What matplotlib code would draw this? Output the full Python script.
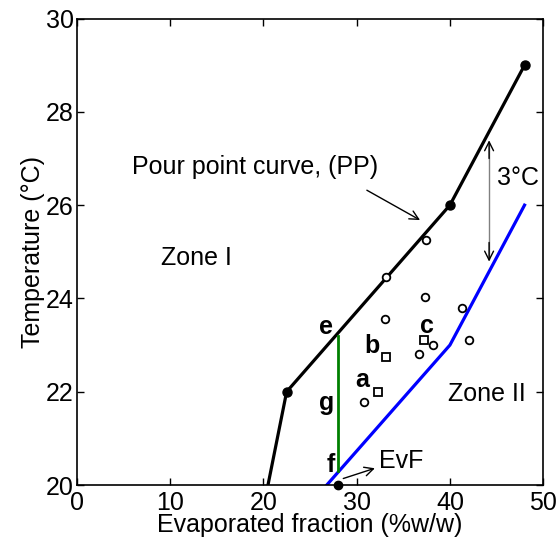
import matplotlib.pyplot as plt
import numpy as np

plt.rcParams['font.family'] = ['Liberation Sans', 'DejaVu Sans']
plt.rcParams['font.size'] = 18

# pour point curve (PP)
pp_x = [20.5, 22.5, 40, 48]
pp_y = [20, 22, 26, 29]
pp_dot_x = [22.5, 40, 48]
pp_dot_y = [22, 26, 29]

# lower boundary (PP - 3 C)
low_x = [26.8, 40, 48]
low_y = [20, 23, 26]

# green segment e-f
ef_x = [28, 28]
ef_y = [20.3, 23.2]

# measured samples
circ_x = [37.4, 33.2, 37.3, 41.3, 33.0, 38.2, 42.1, 36.7, 30.8]
circ_y = [25.25, 24.45, 24.03, 23.8, 23.55, 23.0, 23.1, 22.8, 21.78]
sq_x = [32.25, 33.1, 37.2]
sq_y = [22.0, 22.75, 23.1]
sq_lab = ['a', 'b', 'c']
sq_lab_xy = [(30.55, 22.26), (31.67, 22.98), (37.5, 23.42)]

evf_x, evf_y = 28, 20

fig = plt.figure(figsize=(5.6, 5.45), dpi=100)
ax = fig.add_axes([0.137, 0.110, 0.833, 0.856])

ax.plot(pp_x, pp_y, color='k', lw=2.3)
ax.plot(pp_dot_x, pp_dot_y, 'o', color='k', ms=6.5)
ax.plot(low_x, low_y, color='b', lw=2.3)
ax.plot(ef_x, ef_y, color='green', lw=2)
ax.plot(circ_x, circ_y, 'o', mfc='white', mec='k', mew=1.3, ms=5.5, ls='none')
ax.plot(sq_x, sq_y, 's', mfc='white', mec='k', mew=1.3, ms=5.5, ls='none')
ax.plot([evf_x], [evf_y], 'o', color='k', ms=6, clip_on=False, zorder=5)

for lab, (tx, ty) in zip(sq_lab, sq_lab_xy):
    ax.text(tx, ty, lab, ha='center', va='center', fontweight='bold')
ax.text(26.68, 23.38, 'e', ha='center', va='center', fontweight='bold')
ax.text(26.79, 21.75, 'g', ha='center', va='center', fontweight='bold')
ax.text(27.21, 20.43, 'f', ha='center', va='center', fontweight='bold')

ax.text(9.0, 24.86, 'Zone I', ha='left', va='center')
ax.text(39.8, 21.96, 'Zone II', ha='left', va='center')
ax.text(5.9, 26.82, 'Pour point curve, (PP)', ha='left', va='center')
ax.annotate('', xy=(36.8, 25.68), xytext=(31.1, 26.32),
            arrowprops=dict(arrowstyle='->', color='k', lw=1, shrinkA=0, shrinkB=0,
                            mutation_scale=16))
ax.text(32.4, 20.52, 'EvF', ha='left', va='center')
ax.annotate('', xy=(31.96, 20.36), xytext=(28.57, 20.14),
            arrowprops=dict(arrowstyle='->', color='k', lw=1, shrinkA=0, shrinkB=0,
                            mutation_scale=16))

# 3 C gap arrow
ax.plot([44.2, 44.2], [24.85, 27.33], color='0.5', lw=1)
ax.annotate('', xy=(44.2, 27.39), xytext=(44.2, 27.0),
            arrowprops=dict(arrowstyle='->', color='k', lw=1, shrinkA=0, shrinkB=0,
                            mutation_scale=16))
ax.annotate('', xy=(44.2, 24.79), xytext=(44.2, 25.2),
            arrowprops=dict(arrowstyle='->', color='k', lw=1, shrinkA=0, shrinkB=0,
                            mutation_scale=16))
ax.text(45.0, 26.58, '3°C', ha='left', va='center')

ax.set_xlim(0, 50)
ax.set_ylim(20, 30)
ax.set_xticks(np.arange(0, 51, 10))
ax.set_yticks(np.arange(20, 31, 2))
ax.tick_params(direction='in', top=True, right=True, length=5, width=1)
ax.tick_params(axis='x', pad=4)
ax.tick_params(axis='y', pad=2)
for s in ax.spines.values():
    s.set_linewidth(1.2)
ax.set_xlabel('Evaporated fraction (%w/w)', labelpad=-1)
ax.set_ylabel('Temperature (°C)', labelpad=1)

fig.savefig('out.png', dpi=100)
